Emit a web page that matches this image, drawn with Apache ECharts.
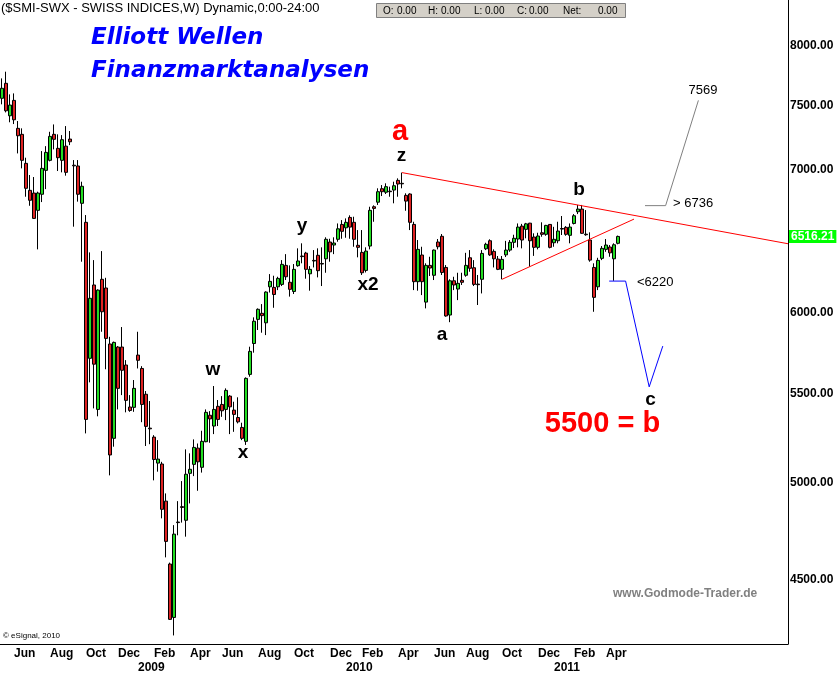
<!DOCTYPE html>
<html><head><meta charset="utf-8">
<script src="https://cdn.jsdelivr.net/npm/echarts@6/dist/echarts.min.js"></script>
<style>html,body{margin:0;padding:0;background:#fff}#c{width:838px;height:675px}</style>
</head><body><div id="c"></div>
<script>
// ---- data ----
const startWeek = '2008-05-12';
const weekCount = 197;
const monthAbbr = ['Jan','Feb','Mar','Apr','May','Jun','Jul','Aug','Sep','Oct','Nov','Dec'];
const openPrices = [7562,7685,7421,7545,7321,7274,7050,6848,6828,6702,6819,6997,7073,7274,7165,7073,7182,7237,7036,7030,
6753,6616,5714,6184,5408,6222,6164,5803,5242,5784,5784,5673,5422,5420,5734,5652,5497,5300,5249,5104,
5099,4899,4578,4322,4790,4870,4799,5048,5097,5187,5081,5223,5374,5312,5426,5437,5408,5486,5404,5361,
5304,5225,5616,5806,5959,5998,5937,6172,6168,6172,6188,6316,6202,6141,6314,6380,6400,6259,6350,6385,
6329,6361,6477,6456,6496,6601,6577,6651,6616,6454,6405,6282,6449,6728,6761,6860,6834,6842,6850,6922,
6900,6811,6821,6601,6206,6387,6071,6316,6249,6477,6517,6302,5987,6212,6157,6215,6249,6368,6300,6190,
6222,6430,6486,6412,6359,6289,6388,6421,6475,6498,6589,6566,6610,6512,6440,6542,6531,6601,6472,6486,
6572,6580,6524,6608,6692,6711,6532,6491,6302,6172,6364,6426,6442,6361,6468];
const closePrices = [7644,7461,7507,7389,7263,7073,6863,6775,6644,6828,7012,7134,7258,7235,7093,7232,6982,7216,7031,6819,
6878,5350,6096,5678,6150,6008,5838,5149,5813,5532,5641,5461,5402,5532,5702,5437,5310,5296,5124,5126,
4856,4691,4313,4728,4787,4866,5043,5070,5191,5111,5225,5391,5353,5408,5350,5400,5520,5423,5379,5336,
5242,5592,5757,5947,6024,5983,6137,6208,6121,6228,6323,6239,6155,6289,6346,6376,6289,6289,6346,6280,
6325,6496,6409,6470,6570,6552,6616,6582,6496,6440,6266,6414,6702,6716,6838,6838,6875,6838,6882,6895,
6896,6769,6616,6206,6426,6206,6316,6298,6421,6444,6268,5981,6212,6184,6195,6202,6316,6296,6188,6186,
6398,6461,6388,6361,6289,6357,6421,6475,6503,6582,6491,6605,6486,6440,6519,6531,6594,6440,6496,6554,
6568,6531,6582,6663,6711,6538,6528,6352,6102,6350,6433,6456,6402,6458,6516.21];
const lowPrices = [7513,7448,7369,7355,7126,7012,6801,6735,6640,6426,6762,6857,7065,7157,6992,6982,6957,7190,6585,6765,
6341,5270,5568,5414,5368,5880,5647,5037,5195,5408,5492,5391,5394,5394,5652,5334,5199,5209,5010,5057,
4809,4611,4310,4239,4722,4787,4715,4887,5033,4954,5052,5220,5217,5266,5312,5365,5346,5266,5279,5327,
5232,5205,5602,5749,5891,5874,5859,6134,6034,6150,6177,6217,6107,6124,6307,6330,6226,6146,6302,6235,
6177,6266,6341,6393,6479,6500,6507,6500,6444,6371,6251,6268,6426,6620,6741,6806,6821,6801,6753,6801,
6863,6699,6561,6150,6146,6117,6030,6244,6217,6426,6251,5976,5941,6150,6084,6184,6239,6273,6177,6052,
6128,6421,6381,6302,6284,6222,6373,6409,6435,6440,6433,6503,6307,6381,6426,6514,6521,6433,6444,6468,
6526,6521,6468,6601,6675,6535,6521,6341,6008,6150,6352,6409,6375,6212,6461];
const highPrices = [7726,7782,7594,7602,7379,7321,7093,6962,6947,6838,7144,7182,7294,7352,7274,7268,7339,7300,7075,7075,
6912,6668,6405,6352,6155,6414,6232,5848,5818,5790,5910,5703,5492,5582,5880,5666,5516,5457,5260,5232,
5111,4940,4585,4774,4899,5006,5180,5158,5236,5213,5285,5408,5398,5546,5463,5486,5532,5492,5453,5479,
5331,5598,5786,5972,6030,6058,6142,6257,6246,6239,6352,6393,6316,6325,6433,6468,6409,6311,6421,6433,
6440,6510,6500,6510,6608,6632,6644,6666,6656,6561,6561,6440,6728,6738,6863,6887,6900,6875,6912,6937,
6980,6826,6826,6620,6491,6444,6330,6375,6425,6498,6533,6318,6222,6239,6266,6266,6402,6421,6352,6251,
6421,6472,6496,6426,6380,6380,6485,6491,6528,6608,6605,6612,6612,6538,6542,6616,6598,6603,6584,6620,
6661,6589,6608,6675,6741,6741,6704,6545,6330,6368,6449,6498,6456,6468,6522];
const yTickValues = [4500,5000,5500,6000,7000,7500,8000];
const lastPrice = 6516.21;
// drawn trend / scenario lines: [week index, price]
const upperTrend = [[100,6980],[196.5,6465]];
const lowerTrend = [[125,6222],[158,6639]];
const bullPath = [[160.75,6736],[165.9,6736],[174.1,7545]];
const bearPath = [[151.8,6210],[155.9,6210],[161.8,5541],[165.2,5790]];

// ---- build ----
const weeks = [];
const t0 = Date.parse(startWeek + 'T00:00:00Z');
for (let i = 0; i < weekCount; i++) weeks.push(new Date(t0 + i * 7 * 864e5).toISOString().slice(0, 10));
function weekLabel(i) {
  if (i >= openPrices.length) return null;
  const d = new Date(weeks[i] + 'T00:00:00Z');
  if (d.getUTCDate() > 7) return null;
  const m = d.getUTCMonth();
  if (m === 0) return '\n' + d.getUTCFullYear();
  if (m % 2 === 1) return monthAbbr[m];
  return null;
}
const ohlc = openPrices.map((o, i) => [o, closePrices[i], lowPrices[i], highPrices[i]]);

const F = '"Liberation Sans", Arial, sans-serif';
function txt(text, x, y, font, fill, align, va) {
  return {type:'text', x:x, y:y, silent:true, z:100,
    style:{text:text, font:font, fill:fill, align:align||'center', verticalAlign:va||'middle'}};
}
const graphics = [
  txt('($SMI-SWX - SWISS INDICES,W) Dynamic,0:00-24:00', 1, 8, '13px ' + F, '#000', 'left'),
  {type:'rect', shape:{x:376.5, y:3.5, width:249, height:14}, style:{fill:'#d4d0c8', stroke:'#808080', lineWidth:1}, z:99, silent:true},
  txt('O:', 383, 11, '10px ' + F, '#000', 'left'), txt('0.00', 397, 11, '10px ' + F, '#000', 'left'),
  txt('H:', 428, 11, '10px ' + F, '#000', 'left'), txt('0.00', 441, 11, '10px ' + F, '#000', 'left'),
  txt('L:', 474, 11, '10px ' + F, '#000', 'left'), txt('0.00', 485, 11, '10px ' + F, '#000', 'left'),
  txt('C:', 517, 11, '10px ' + F, '#000', 'left'), txt('0.00', 529, 11, '10px ' + F, '#000', 'left'),
  txt('Net:', 563, 11, '10px ' + F, '#000', 'left'), txt('0.00', 598, 11, '10px ' + F, '#000', 'left'),
  txt('Elliott Wellen', 91, 38, 'italic bold 23px "DejaVu Sans"', '#0000ff', 'left'),
  txt('Finanzmarktanalysen', 91, 71, 'italic bold 23px "DejaVu Sans"', '#0000ff', 'left'),
  txt('a', 400, 132, 'bold 29px ' + F, '#ff0000'),
  txt('z', 401.5, 156, 'bold 19px ' + F, '#000'),
  txt('y', 302, 226, 'bold 19px ' + F, '#000'),
  txt('x2', 368, 285, 'bold 19px ' + F, '#000'),
  txt('a', 442, 335, 'bold 19px ' + F, '#000'),
  txt('w', 213, 370, 'bold 19px ' + F, '#000'),
  txt('x', 243, 453, 'bold 19px ' + F, '#000'),
  txt('b', 579, 190, 'bold 19px ' + F, '#000'),
  txt('c', 650.5, 400, 'bold 19px ' + F, '#000'),
  txt('5500 = b', 602.5, 424, 'bold 29px ' + F, '#ff0000'),
  txt('7569', 703, 90.5, '13px ' + F, '#000'),
  txt('> 6736', 673, 203, '13px ' + F, '#000', 'left'),
  txt('<6220', 637, 282, '13px ' + F, '#000', 'left'),
  txt('www.Godmode-Trader.de', 613, 594, 'bold 12px ' + F, '#808080', 'left'),
  txt('\u00a9 eSignal, 2010', 3, 636, '8px ' + F, '#000', 'left')
];

const tickLines = yTickValues.map(v => ({yAxis: v}));
tickLines.push({yAxis: lastPrice, label:{backgroundColor:'#00ff00', color:'#fff', padding:[1,2,0,2], distance:1}});

function pathSeries(name, data, color) {
  return {type:'line', name:name, xAxisIndex:1, yAxisIndex:0, data:data, symbol:'none', silent:true,
    lineStyle:{color:color, width:1}, z:5, animation:false};
}

const chart = echarts.init(document.getElementById('c'), null, {renderer:'canvas'});
chart.setOption({
  animation:false,
  backgroundColor:'#fff',
  grid:{left:0, right:50, top:0, bottom:31, containLabel:false, outerBoundsMode:'none'},
  xAxis:[{
    type:'category', data:weeks, boundaryGap:true,
    axisLine:{show:true, onZero:false, lineStyle:{color:'#000', width:1}},
    axisTick:{show:false}, splitLine:{show:false},
    axisLabel:{interval:(i) => weekLabel(i) !== null, formatter:(v, i) => weekLabel(i) || '',
      align:'left', margin:3, color:'#000', fontWeight:'bold', fontSize:12, fontFamily:F, lineHeight:14}
  },{
    type:'value', min:-0.5, max:weekCount - 0.5, show:false
  }],
  yAxis:[{
    type:'log', logBase:10, position:'right', min:4200, max:8407,
    axisLine:{show:true, onZero:false, lineStyle:{color:'#000', width:1}},
    axisTick:{show:false}, axisLabel:{show:false}, splitLine:{show:false}
  }],
  series:[{
    type:'candlestick', xAxisIndex:0, yAxisIndex:0, data:ohlc, barWidth:3, z:3,
    itemStyle:{color:'#22dd22', color0:'#dd2222', borderColor:'#000', borderColor0:'#000', borderWidth:1},
    markLine:{silent:true, symbol:['none','none'], animation:false,
      lineStyle:{color:'rgba(0,0,0,0)', width:1, type:'solid'},
      label:{show:true, position:'end', distance:2, color:'#000', fontWeight:'bold', fontSize:12, fontFamily:F,
        formatter:(p) => Number(p.value).toFixed(2)},
      data:tickLines}
  },
  pathSeries('upper', upperTrend, '#ff0000'),
  pathSeries('lower', lowerTrend, '#ff0000'),
  pathSeries('bull', bullPath, '#808080'),
  pathSeries('bear', bearPath, '#0000ff')],
  graphic:graphics
});
</script></body></html>
